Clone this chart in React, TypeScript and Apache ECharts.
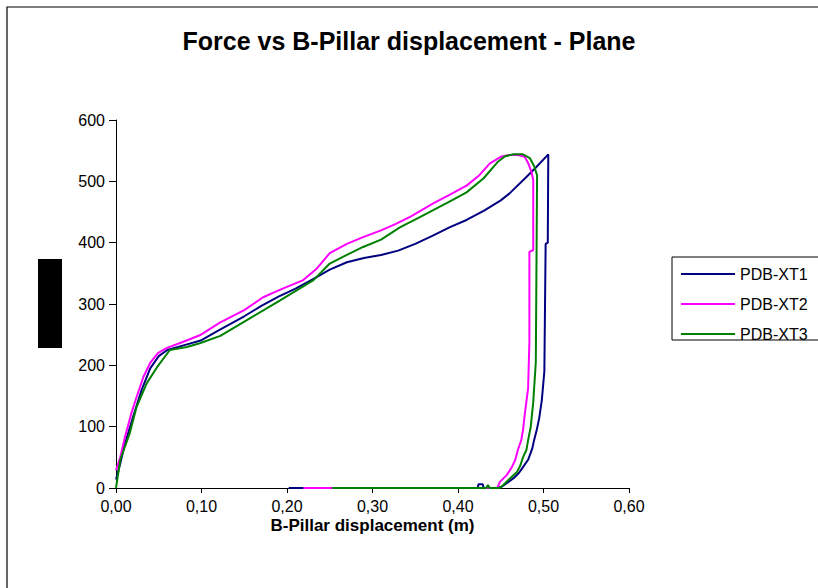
import React, { useEffect, useRef } from "react";
import * as echarts from "echarts";

const seriesNames = ["PDB-XT1", "PDB-XT2", "PDB-XT3"];
const seriesColors = ["#000080", "#FF00FF", "#008000"];

// [displacement (m), force]
const xt1: number[][] = [
  [0, 14], [0.005, 40], [0.01, 70], [0.02, 116], [0.03, 160], [0.04, 195], [0.05, 215],
  [0.06, 225], [0.08, 233], [0.1, 241], [0.12, 257], [0.15, 280], [0.17, 297], [0.19, 312],
  [0.21, 325], [0.23, 340], [0.25, 356], [0.27, 368], [0.29, 375], [0.31, 380], [0.33, 387],
  [0.35, 398], [0.37, 411], [0.39, 425], [0.41, 437], [0.43, 452], [0.45, 469], [0.46, 480],
  [0.48, 507], [0.49, 521], [0.5056, 544],
  [0.505, 400], [0.5025, 398], [0.501, 190], [0.498, 143], [0.495, 114], [0.492, 94],
  [0.489, 78], [0.487, 65], [0.482, 46], [0.476, 34], [0.471, 24], [0.465, 16], [0.457, 8],
  [0.451, 2], [0.445, 0], [0.43, 0], [0.429, 6], [0.424, 6], [0.423, 0], [0.202, 0],
];

const xt2: number[][] = [
  [0, 29], [0.005, 50], [0.0105, 83], [0.018, 122], [0.024, 148], [0.032, 181], [0.04, 204],
  [0.049, 220], [0.059, 228], [0.078, 238], [0.098, 249], [0.122, 270], [0.15, 290],
  [0.172, 311], [0.195, 325], [0.219, 339], [0.235, 358], [0.25, 383], [0.27, 398],
  [0.289, 409], [0.31, 420], [0.328, 431], [0.345, 443], [0.356, 452], [0.371, 464],
  [0.39, 478], [0.41, 493], [0.425, 510], [0.437, 529], [0.45, 540], [0.46, 543], [0.47, 543],
  [0.478, 540], [0.482, 530], [0.486, 515], [0.488, 502], [0.488, 388], [0.4835, 385],
  [0.4835, 238], [0.482, 163], [0.478, 119], [0.476, 94], [0.474, 78], [0.47, 62],
  [0.467, 46], [0.463, 34], [0.457, 21], [0.449, 10], [0.446, 0], [0.219, 0],
];

const xt3: number[][] = [
  [0, 0], [0.005, 46], [0.016, 89], [0.024, 132], [0.036, 171], [0.048, 197], [0.063, 225],
  [0.083, 230], [0.098, 236], [0.122, 248], [0.157, 277], [0.192, 306], [0.231, 339],
  [0.25, 366], [0.27, 380], [0.289, 393], [0.31, 405], [0.332, 425], [0.356, 442],
  [0.371, 453], [0.39, 467], [0.41, 482], [0.43, 505], [0.446, 531], [0.455, 541],
  [0.465, 544], [0.476, 544], [0.484, 538], [0.489, 525], [0.4925, 510], [0.491, 205],
  [0.488, 140], [0.485, 99], [0.482, 78], [0.48, 62], [0.476, 50], [0.473, 37], [0.469, 26],
  [0.461, 16], [0.453, 5], [0.449, 0], [0.437, 0], [0.435, 5], [0.433, 0], [0.253, 0],
];

const seriesData = [xt1, xt2, xt3];

const titleText = "Force vs B-Pillar displacement - Plane";
const xAxisTitle = "B-Pillar displacement (m)";

const FONT = "'Liberation Sans', Arial, sans-serif";

export default function App() {
  const ref = useRef<HTMLDivElement>(null);
  useEffect(() => {
    document.body.style.margin = "0";
    const chart = echarts.init(ref.current!, null, { renderer: "svg" });
    chart.setOption({
      animation: false,
      backgroundColor: "#ffffff",
      title: {
        text: titleText,
        left: "center",
        top: 23,
        textStyle: { fontFamily: FONT, fontSize: 25, fontWeight: "bold", color: "#000" },
      },
      grid: { left: 116, right: 189, top: 120, bottom: 100, containLabel: false },
      legend: {
        data: seriesNames,
        orient: "vertical",
        left: 681,
        top: 266,
        padding: 0,
        icon: "rect",
        itemWidth: 54,
        itemHeight: 2,
        itemGap: 14,
        textStyle: { fontFamily: FONT, fontSize: 16, color: "#000" },
      },
      xAxis: {
        type: "value",
        min: 0,
        max: 0.6,
        interval: 0.1,
        name: xAxisTitle,
        nameLocation: "middle",
        nameGap: 29,
        nameMoveOverlap: false,
        nameTextStyle: { fontFamily: FONT, fontSize: 17, fontWeight: "bold", color: "#000" },
        axisLine: { show: true, lineStyle: { color: "#000", width: 1 } },
        axisTick: { show: true, length: 5, lineStyle: { color: "#000" } },
        splitLine: { show: false },
        axisLabel: {
          margin: 10,
          fontFamily: FONT,
          fontSize: 16,
          color: "#000",
          formatter: (v: number) => v.toFixed(2).replace(".", ","),
        },
      },
      yAxis: {
        type: "value",
        min: 0,
        max: 600,
        interval: 100,
        axisLine: { show: true, lineStyle: { color: "#000", width: 1 } },
        axisTick: { show: true, length: 7, lineStyle: { color: "#000" } },
        splitLine: { show: false },
        axisLabel: { margin: 11, fontFamily: FONT, fontSize: 16, color: "#000" },
      },
      graphic: [
        {
          type: "rect",
          z: -10,
          shape: { x: 7, y: 7, width: 830, height: 600 },
          style: { fill: "none", stroke: "#000", lineWidth: 1.2 },
          silent: true,
        },
        {
          type: "rect",
          z: 0,
          shape: { x: 672, y: 257, width: 200, height: 83 },
          style: { fill: "#fff", stroke: "#000", lineWidth: 1 },
          silent: true,
        },
        {
          type: "rect",
          shape: { x: 38, y: 259, width: 24, height: 89 },
          style: { fill: "#000" },
          silent: true,
        },
      ],
      series: seriesNames.map((name, i) => ({
        name,
        type: "line",
        data: seriesData[i],
        symbol: "none",
        showSymbol: false,
        color: seriesColors[i],
        lineStyle: { color: seriesColors[i], width: 2 },
        emphasis: { disabled: true },
        z: 2 + i,
      })),
    });
    return () => chart.dispose();
  }, []);
  return <div ref={ref} style={{ width: 818, height: 588, position: "absolute", left: 0, top: 0 }} />;
}
